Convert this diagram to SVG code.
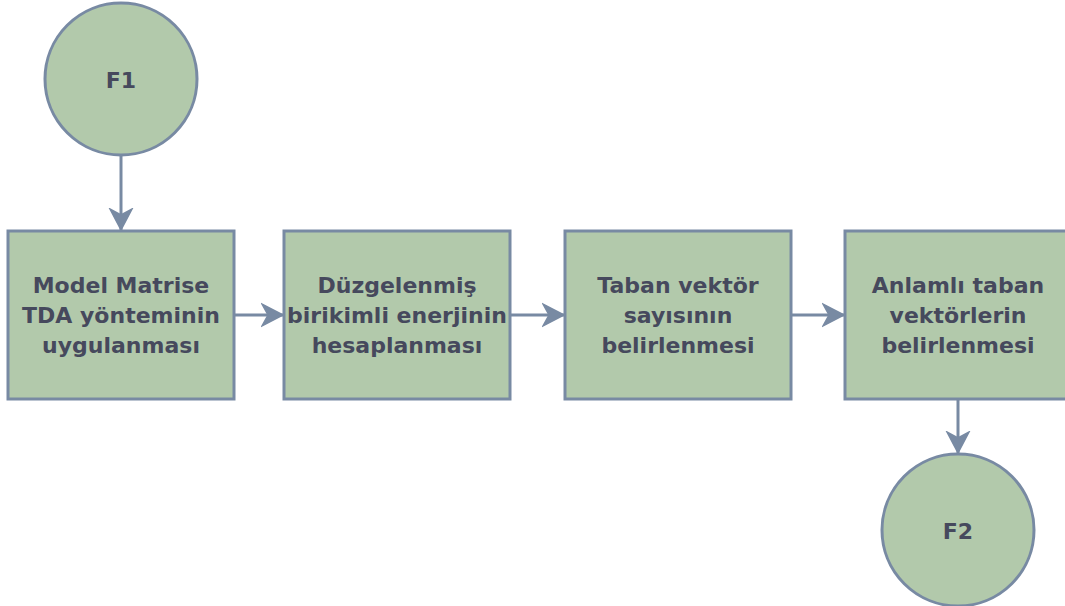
<svg xmlns="http://www.w3.org/2000/svg" width="1065" height="606" viewBox="0 0 1065 606">
  <defs>
    <marker id="arr" markerUnits="userSpaceOnUse" markerWidth="24" markerHeight="26" viewBox="0 0 24 26" refX="22" refY="13" orient="auto">
      <path d="M22,13 L1,2 L7,13 L1,24 Z" fill="#788AA3" stroke="#788AA3" stroke-width="1.5" stroke-linejoin="miter"/>
    </marker>
    <style>
      .n { fill: #B2C9AB; stroke: #788AA3; stroke-width: 3; }
      .t { font-family: "DejaVu Sans", Verdana, sans-serif; font-weight: bold; font-size: 22px; fill: #46495D; text-anchor: middle; }
      .c { fill: none; stroke: #788AA3; stroke-width: 3; marker-end: url(#arr); }
    </style>
  </defs>
  <rect width="1065" height="606" fill="#ffffff"/>
  <g id="connectors">
    <path class="c" d="M121,155 L121,230"/>
    <path class="c" d="M234,315 L283,315"/>
    <path class="c" d="M510,315 L564,315"/>
    <path class="c" d="M791,315 L844,315"/>
    <path class="c" d="M958,399 L958,453"/>
  </g>
  <g id="F1">
    <circle class="n" cx="121" cy="79" r="76"/>
    <text class="t" x="121" y="88">F1</text>
  </g>
  <g id="box1">
    <rect class="n" x="8" y="231" width="226" height="168"/>
    <text class="t" x="121" y="293">Model Matrise</text>
    <text class="t" x="121" y="323">TDA yönteminin</text>
    <text class="t" x="121" y="353">uygulanması</text>
  </g>
  <g id="box2">
    <rect class="n" x="284" y="231" width="226" height="168"/>
    <text class="t" x="397" y="293">Düzgelenmiş</text>
    <text class="t" x="397" y="323">birikimli enerjinin</text>
    <text class="t" x="397" y="353">hesaplanması</text>
  </g>
  <g id="box3">
    <rect class="n" x="565" y="231" width="226" height="168"/>
    <text class="t" x="678" y="293">Taban vektör</text>
    <text class="t" x="678" y="323">sayısının</text>
    <text class="t" x="678" y="353">belirlenmesi</text>
  </g>
  <g id="box4">
    <rect class="n" x="845" y="231" width="226" height="168"/>
    <text class="t" x="958" y="293">Anlamlı taban</text>
    <text class="t" x="958" y="323">vektörlerin</text>
    <text class="t" x="958" y="353">belirlenmesi</text>
  </g>
  <g id="F2">
    <circle class="n" cx="958" cy="530" r="76"/>
    <text class="t" x="958" y="539">F2</text>
  </g>
</svg>
